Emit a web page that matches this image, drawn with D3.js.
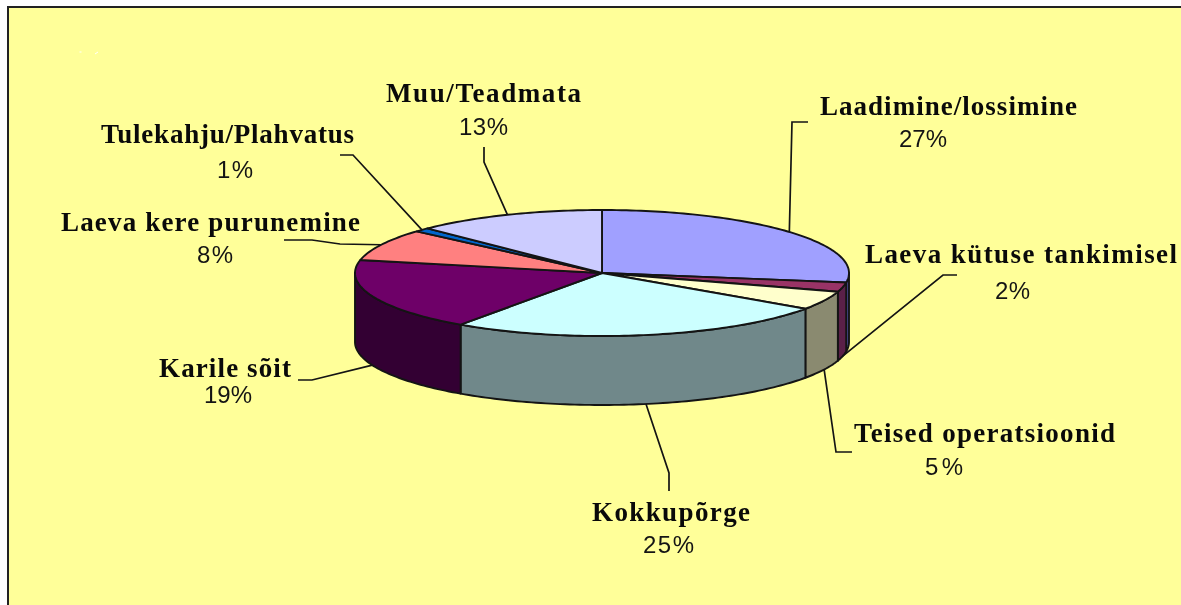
<!DOCTYPE html>
<html><head><meta charset="utf-8">
<script src="https://cdn.jsdelivr.net/npm/d3@7/dist/d3.min.js"></script>
<style>html,body{margin:0;padding:0;background:#fff;overflow:hidden}svg{display:block}
#chartRoot{filter:blur(0.6px)}</style>
</head><body>
<script>
const categories = ["Laadimine/lossimine","Laeva kütuse tankimisel","Teised operatsioonid","Kokkupõrge","Karile sõit","Laeva kere purunemine","Tulekahju/Plahvatus","Muu/Teadmata"];
const values = [27.4, 2.4, 4.8, 25.1, 18.6, 8.2, 1, 12.5];
const percentLabels = ["27%","2%","5%","25%","19%","8%","1%","13%"];
const topColors = ["#A0A0FF","#993366","#FFFFCC","#CCFFFF","#6E0068","#FF8080","#0066CC","#CCCCFF"];
const sideColors = ["#5050A0","#5A2048","#8A8A70","#70888A","#330033","#804040","#003366","#666680"];

// Layout only: name [left, right, baseline], percent [left, right, baseline], leader elbows from the label side
const layout = [
 {n:[820,1077,115],p:[899,947,147],l:[[808,122],[792,122]]},
 {n:[865,1177,263],p:[995,1030,299],l:[[957,275],[943,275]]},
 {n:[854,1115,442],p:[925,963,475],l:[[852,452],[836,452]]},
 {n:[592,750,521],p:[643,694,553],l:[[669,491],[669,473]]},
 {n:[159,291,377],p:[204,252,403],l:[[298,380],[312,380]]},
 {n:[61,360,231],p:[197,233,263],l:[[284,240],[312,240],[340,244]]},
 {n:[101,354,143],p:[217,253,178],l:[[340,155],[353,155]]},
 {n:[386,581,102],p:[459,508,135],l:[[484,147],[484,162]]}
];

const W=1181,H=605,cx=602,cy=273,rx=247,ry=63,depth=69;
const svg=d3.select("body").append("svg").attr("width",W).attr("height",H);

svg.append("rect").attr("width",W).attr("height",H).attr("fill","#fff");
svg.append("rect").attr("x",8).attr("y",7).attr("width",W).attr("height",H).attr("fill","#FFFF99").attr("stroke","#222").attr("stroke-width",2);

const root=svg.append("g").attr("id","chartRoot");
root.append("path").attr("d","M79.5 52h2M95 54l3-2").attr("stroke","#fff").attr("fill","none");

const sx=d3.scaleLinear().domain([-1,1]).range([cx-rx,cx+rx]);
const sy=d3.scaleLinear().domain([-1,1]).range([cy-ry,cy+ry]);
const line=d3.line();
const rim=(a,dy=0)=>[sx(Math.sin(a)),sy(-Math.cos(a))+dy];
const arcPts=(a0,a1,dy=0)=>{const n=Math.max(2,Math.ceil((a1-a0)/0.02));return d3.range(n+1).map(i=>rim(a0+(a1-a0)*i/n,dy));};

const pie=d3.pie().sort(null).value(d=>d)(values);
const slices=pie.map((d,i)=>({...d,i}));

const edge="#141414", edgeW=1.9;
const lo=Math.PI/2, hi=Math.PI*1.5;
root.append("g").selectAll("path").data(slices.filter(d=>d.endAngle>lo&&d.startAngle<hi)).join("path")
  .attr("d",d=>{const a=Math.max(d.startAngle,lo),b=Math.min(d.endAngle,hi);
    return line([...arcPts(a,b),...arcPts(a,b,depth).reverse()])+"Z";})
  .attr("fill",d=>sideColors[d.i]).attr("stroke",edge).attr("stroke-width",edgeW).attr("stroke-linejoin","round");
root.append("g").selectAll("path").data(slices).join("path")
  .attr("d",d=>line([[cx,cy],...arcPts(d.startAngle,d.endAngle)])+"Z")
  .attr("fill",d=>topColors[d.i]).attr("stroke",edge).attr("stroke-width",edgeW).attr("stroke-linejoin","round");

root.append("g").selectAll("path").data(slices).join("path")
  .attr("d",d=>{const m=(d.startAngle+d.endAngle)/2;
    const start=rim(m,Math.cos(m)<0?depth:0);
    return line([...layout[d.i].l,start]);})
  .attr("fill","none").attr("stroke",edge).attr("stroke-width",1.7);

const t=root.append("g");
t.selectAll("text.name").data(categories).join("text").attr("class","name")
  .attr("x",(d,i)=>layout[i].n[0]).attr("y",(d,i)=>layout[i].n[2])
  .attr("textLength",(d,i)=>layout[i].n[1]-layout[i].n[0]).attr("lengthAdjust","spacing")
  .attr("font-family","'Liberation Serif',serif").attr("font-weight","bold").attr("font-size",27).attr("fill","#0a0a0a")
  .text(d=>d);
t.selectAll("text.pct").data(percentLabels).join("text").attr("class","pct")
  .attr("x",(d,i)=>layout[i].p[0]).attr("y",(d,i)=>layout[i].p[2])
  .attr("textLength",(d,i)=>layout[i].p[1]-layout[i].p[0]).attr("lengthAdjust","spacing")
  .attr("font-family","'Liberation Sans',sans-serif").attr("font-size",24).attr("fill","#141414")
  .text(d=>d);
</script>
</body></html>
